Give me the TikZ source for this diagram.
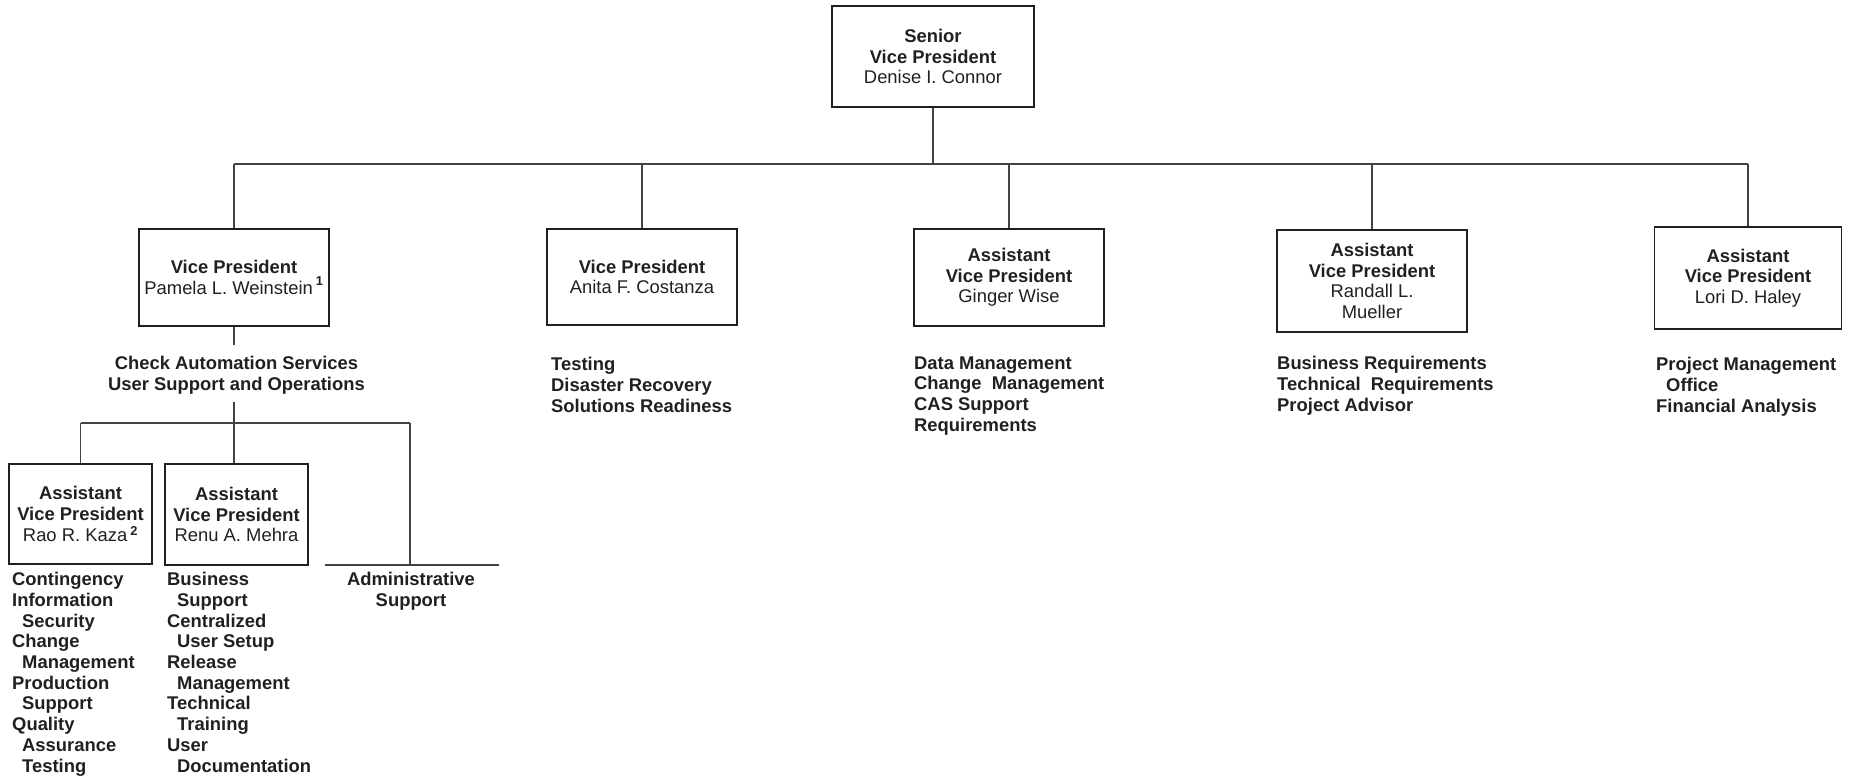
\documentclass[tikz,border=0pt]{standalone}
\usepackage{fontspec}
\setmainfont{Liberation Sans}
\definecolor{ink}{HTML}{231F20}
\newcommand\chartfont{\fontsize{18.4}{20.7}\selectfont}
\newcommand\ind{\hspace*{10pt}}
\tikzset{
  boxnode/.style={draw=ink, line width=1.8pt, align=center, inner sep=0pt, text=ink,
    font=\chartfont, minimum width=190pt},
  conn/.style={draw=ink!85, line width=1.2pt},
  listnode/.style={align=left, anchor=north west, inner sep=0pt, text=ink, font=\chartfont\bfseries},
  headnode/.style={align=center, anchor=north, inner sep=0pt, text=ink, font=\chartfont\bfseries},
}
\begin{document}
\begin{tikzpicture}[x=1pt,y=-1pt]
\useasboundingbox (0,0) rectangle (1862,777);

% boxes
\node[boxnode, minimum width=202pt, minimum height=101pt] (svp) at (933,56.5)
  {\textbf{Senior}\\\textbf{Vice President}\\Denise I. Connor};
\node[boxnode, minimum height=97pt] (pam) at (234,277.5)
  {\textbf{Vice President}\\Pamela L. Weinstein\,\raisebox{0.15em}{\textsuperscript{\textbf{1}}}};
\node[boxnode, minimum height=96pt] (anita) at (642,277)
  {\textbf{Vice President}\\Anita F. Costanza};
\node[boxnode, minimum height=97pt] (ginger) at (1009,277.5)
  {\textbf{Assistant}\\\textbf{Vice President}\\Ginger Wise};
\node[boxnode, minimum height=102pt] (randall) at (1372,281)
  {\textbf{Assistant}\\\textbf{Vice President}\\Randall L.\\Mueller};
\node[boxnode, minimum width=187pt, minimum height=102pt] (lori) at (1748,278)
  {\textbf{Assistant}\\\textbf{Vice President}\\Lori D. Haley};
\node[boxnode, minimum width=143pt, minimum height=100pt] (kaza) at (80.5,514)
  {\textbf{Assistant}\\\textbf{Vice President}\\Rao R. Kaza\,\textsuperscript{\textbf{2}}};
\node[boxnode, minimum width=143pt, minimum height=101pt] (mehra) at (236.5,514.5)
  {\textbf{Assistant}\\\textbf{Vice President}\\Renu A. Mehra};

% top-level bus
\coordinate (busL) at (234,164);
\coordinate (busR) at (1748,164);
\draw[conn] (busL) -- (busR);
\draw[conn] (svp.south) -- (svp.south |- busL);
\draw[conn] (pam.north) -- (pam.north |- busL);
\draw[conn] (anita.north) -- (anita.north |- busL);
\draw[conn] (ginger.north) -- (ginger.north |- busL);
\draw[conn] (randall.north) -- (randall.north |- busL);
\draw[conn] (lori.north) -- (lori.north |- busL);

% Pamela's branch
\node[headnode] (cas) at (236.5,356.4) {Check Automation Services\\User Support and Operations};
\coordinate (casA) at (234,345);
\coordinate (casB) at (234,402);
\coordinate (sb) at (234,423);
\coordinate (sbL) at (80.5,423);
\coordinate (sbR) at (410,423);
\draw[conn] (pam.south) -- (casA);
\draw[conn] (casB) -- (sb);
\draw[conn] (sbL) -- (sbR);
\draw[conn] (kaza.north) -- (kaza.north |- sbL);
\draw[conn] (sb) -- (sb |- mehra.north);
\coordinate (admT) at (410,565);
\coordinate (admL) at (325,565);
\coordinate (admR) at (499,565);
\draw[conn] (sbR) -- (admT);
\draw[conn] (admL) -- (admR);
\node[headnode] (adm) at (411,572.4) {Administrative\\Support};

% function lists
\node[listnode] (kazalist) at (12,572.2)
  {Contingency\\Information\\\ind Security\\Change\\\ind Management\\Production\\\ind Support\\Quality\\\ind Assurance\\\ind Testing};
\node[listnode] (mehralist) at (167,572.2)
  {Business\\\ind Support\\Centralized\\\ind User Setup\\Release\\\ind Management\\Technical\\\ind Training\\User\\\ind Documentation};
\node[listnode] (anitalist) at (551,357.2)
  {Testing\\Disaster Recovery\\Solutions Readiness};
\node[listnode] (gingerlist) at (914,356.2)
  {Data Management\\Change\ \ Management\\CAS Support\\Requirements};
\node[listnode] (randalllist) at (1277,356.4)
  {Business Requirements\\Technical\ \ Requirements\\Project Advisor};
\node[listnode] (lorilist) at (1656,357.2)
  {Project Management\\\ind Office\\Financial Analysis};
\end{tikzpicture}
\end{document}
